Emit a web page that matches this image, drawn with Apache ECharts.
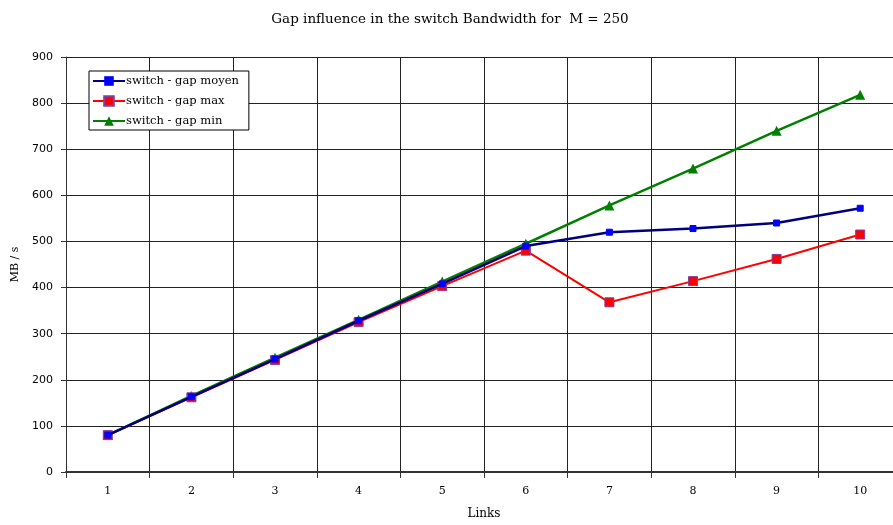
<!DOCTYPE html>
<html><head><meta charset="utf-8">
<script src="https://cdn.jsdelivr.net/npm/echarts@6/dist/echarts.min.js"></script>
<style>html,body{margin:0;padding:0;background:#fff;overflow:hidden}#c{width:902px;height:525px}</style>
</head><body><div id="c"></div>
<script>
const categories = ['1','2','3','4','5','6','7','8','9','10'];
const gapMoyen = [80, 163, 245, 328, 408, 490, 520, 528, 540, 572];
const gapMax   = [80, 162, 243, 325, 403, 480, 368, 414, 462, 515];
const gapMin   = [80, 165, 248, 330, 413, 495, 578, 658, 740, 818];
const seriesNames = ['switch - gap moyen', 'switch - gap max', 'switch - gap min'];

const serif = 'DejaVu Serif';
const chart = echarts.init(document.getElementById('c'));
chart.setOption({
  animation: false,
  backgroundColor: '#fff',
  title: {
    text: 'Gap influence in the switch Bandwidth for  M = 250',
    left: 445, top: 7, textAlign: 'center',
    textStyle: {fontFamily: serif, fontWeight: 'normal', fontSize: 13.5, color: '#000'}
  },
  legend: {
    left: 89, top: 71, orient: 'vertical',
    backgroundColor: '#fff', borderColor: '#000', borderWidth: 1,
    padding: [4, 10, 3, 3], itemGap: 8, itemWidth: 32, itemHeight: 12,
    textStyle: {fontFamily: serif, fontSize: 11.5, color: '#000', padding: [0,0,0,-4]},
    data: seriesNames
  },
  grid: {left: 66, top: 57, right: 0, bottom: 52, containLabel: false},
  xAxis: {
    type: 'category', data: categories, boundaryGap: true,
    name: 'Links', nameLocation: 'middle', nameGap: 36,
    nameTextStyle: {fontFamily: serif, fontSize: 12, color: '#000', align: 'center'},
    axisLine: {lineStyle: {color: '#333', width: 2}},
    axisTick: {show: true, length: 6, lineStyle: {color: '#333'}},
    axisLabel: {fontFamily: serif, fontSize: 11, color: '#000', margin: 14},
    splitLine: {show: true, lineStyle: {color: '#222', width: 1}}
  },
  yAxis: {
    type: 'value', min: 0, max: 900, interval: 100,
    name: 'MB / s', nameLocation: 'middle', nameGap: 45,
    nameTextStyle: {fontFamily: serif, fontSize: 11, color: '#000'},
    axisLine: {show: true, lineStyle: {color: '#333', width: 1}},
    axisTick: {show: true, length: 5, lineStyle: {color: '#333'}},
    axisLabel: {fontFamily: 'DejaVu Sans', fontSize: 11, color: '#000', margin: 13},
    splitLine: {show: true, lineStyle: {color: '#222', width: 1}}
  },
  series: [
    {name: seriesNames[0], type: 'line', data: gapMoyen, symbol: 'rect', symbolSize: 6,
     lineStyle: {color: '#00007f', width: 2.5}, itemStyle: {color: '#0000ff', borderColor: '#0000ff'}, z: 3},
    {name: seriesNames[1], type: 'line', data: gapMax, symbol: 'rect', symbolSize: 9,
     lineStyle: {color: '#ff0000', width: 2}, itemStyle: {color: '#ff0000', borderColor: '#7f3f9f', borderWidth: 1}, z: 2},
    {name: seriesNames[2], type: 'line', data: gapMin, symbol: 'triangle', symbolSize: 10,
     lineStyle: {color: '#007f00', width: 2.5}, itemStyle: {color: '#007f00'}, z: 1}
  ]
});
</script></body></html>
